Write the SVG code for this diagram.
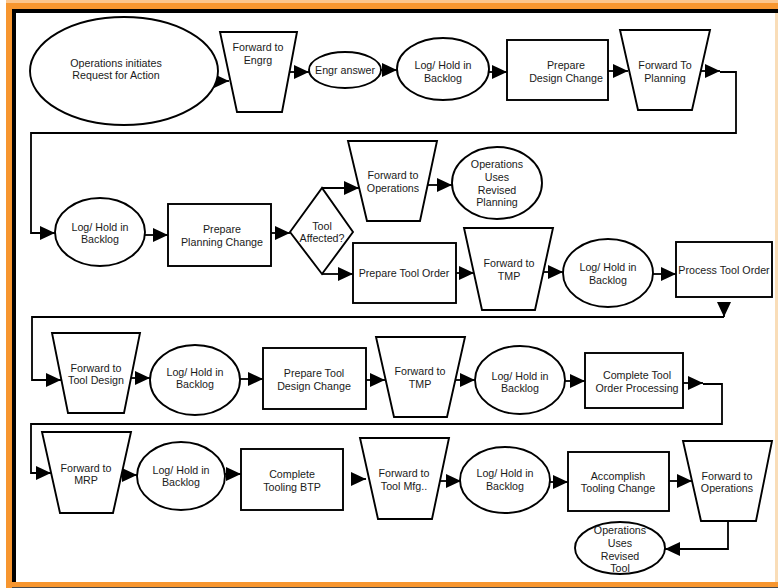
<svg xmlns="http://www.w3.org/2000/svg" width="778" height="588" viewBox="0 0 778 588">
  <style>
    .shape { fill: #ffffff; stroke: #000000; stroke-width: 1.9; }
    .conn { fill: none; stroke: #000000; stroke-width: 1.8; }
    .lbl { font-family: "Liberation Sans", Arial, sans-serif; font-size: 10.7px; fill: #1a1a1a; text-anchor: middle; }
  </style>
  <defs>
    <marker id="arrow" markerUnits="userSpaceOnUse" markerWidth="15" markerHeight="14" refX="15" refY="7" orient="auto">
      <path d="M0,0 L15,7 L0,14 Z" fill="#000000"/>
    </marker>
  </defs>

  <!-- page frame -->
  <g id="frame">
    <rect x="6" y="0" width="772" height="588" fill="#F7962F"/>
    <rect x="6" y="0" width="772" height="3" fill="#FBC58C"/>
    <rect x="12" y="9" width="766" height="4" fill="#000000"/>
    <rect x="12" y="9" width="4" height="573" fill="#000000"/>
    <rect x="16" y="13" width="759" height="569" fill="#ffffff"/>
    <rect x="775" y="13" width="3" height="569" fill="#F9DDB8"/>
    <rect x="12" y="587" width="766" height="1" fill="#4a4a4a"/>
  </g>

  <!-- connectors -->
  <g id="connectors" class="conn">
    <path class="conn" d="M216,81 H229" marker-end="url(#arrow)"/>
    <path class="conn" d="M289,72 H309" marker-end="url(#arrow)"/>
    <path class="conn" d="M381,70 H397" marker-end="url(#arrow)"/>
    <path class="conn" d="M488,72 H507" marker-end="url(#arrow)"/>
    <path class="conn" d="M608,71 H628" marker-end="url(#arrow)"/>
    <path class="conn" d="M701,71 H720" marker-end="url(#arrow)"/>
    <path class="conn" d="M720,72 H736 V133 H31 V233 H55" marker-end="url(#arrow)"/>
    <path class="conn" d="M145,235 H168" marker-end="url(#arrow)"/>
    <path class="conn" d="M271,233 H290" marker-end="url(#arrow)"/>
    <path class="conn" d="M322,188 H359" marker-end="url(#arrow)"/>
    <path class="conn" d="M427,185 H452" marker-end="url(#arrow)"/>
    <path class="conn" d="M322,274 H353" marker-end="url(#arrow)"/>
    <path class="conn" d="M456,273 H474" marker-end="url(#arrow)"/>
    <path class="conn" d="M543,272 H563" marker-end="url(#arrow)"/>
    <path class="conn" d="M653,274 H676" marker-end="url(#arrow)"/>
    <path class="conn" d="M724,303 V317" marker-end="url(#arrow)"/>
    <path class="conn" d="M724,317 H32 V380 H61" marker-end="url(#arrow)"/>
    <path class="conn" d="M131,378 H150" marker-end="url(#arrow)"/>
    <path class="conn" d="M240,379 H263" marker-end="url(#arrow)"/>
    <path class="conn" d="M366,380 H385" marker-end="url(#arrow)"/>
    <path class="conn" d="M455,380 H475" marker-end="url(#arrow)"/>
    <path class="conn" d="M565,381 H585" marker-end="url(#arrow)"/>
    <path class="conn" d="M683,383 H703" marker-end="url(#arrow)"/>
    <path class="conn" d="M703,384 H722 V424 H31 V473 H51" marker-end="url(#arrow)"/>
    <path class="conn" d="M121,475 H137" marker-end="url(#arrow)"/>
    <path class="conn" d="M225,474 H241" marker-end="url(#arrow)"/>
    <path class="conn" d="M351,479 H366" marker-end="url(#arrow)"/>
    <path class="conn" d="M440,481 H461" marker-end="url(#arrow)"/>
    <path class="conn" d="M550,482 H568" marker-end="url(#arrow)"/>
    <path class="conn" d="M669,481 H692" marker-end="url(#arrow)"/>
    <path class="conn" d="M728,521 V549 H665" marker-end="url(#arrow)"/>
  </g>

  <!-- row 1 -->
  <g id="ops-request">
    <ellipse class="shape" cx="124" cy="71" rx="94" ry="54"/>
    <text class="lbl" x="116" y="66.5">Operations initiates</text>
    <text class="lbl" x="116" y="78.5">Request for Action</text>
  </g>
  <g id="fwd-engrg">
    <polygon class="shape" points="220,32 297,32 282,112 237,112"/>
    <text class="lbl" x="258" y="51">Forward to</text>
    <text class="lbl" x="258" y="64">Engrg</text>
  </g>
  <g id="engr-answer">
    <ellipse class="shape" cx="345" cy="70" rx="36" ry="18"/>
    <text class="lbl" x="345" y="74">Engr answer</text>
  </g>
  <g id="backlog-1">
    <ellipse class="shape" cx="443" cy="69" rx="46" ry="31"/>
    <text class="lbl" x="443" y="69">Log/ Hold in</text>
    <text class="lbl" x="443" y="82">Backlog</text>
  </g>
  <g id="design-change">
    <rect class="shape" x="507" y="40" width="101" height="60"/>
    <text class="lbl" x="566" y="69">Prepare</text>
    <text class="lbl" x="566" y="82">Design Change</text>
  </g>
  <g id="fwd-planning">
    <polygon class="shape" points="620,30 710,30 692,110 638,110"/>
    <text class="lbl" x="665" y="69">Forward To</text>
    <text class="lbl" x="665" y="82">Planning</text>
  </g>

  <!-- row 2 -->
  <g id="backlog-2">
    <ellipse class="shape" cx="100" cy="232" rx="45" ry="34"/>
    <text class="lbl" x="100" y="231">Log/ Hold in</text>
    <text class="lbl" x="100" y="243">Backlog</text>
  </g>
  <g id="planning-change">
    <rect class="shape" x="168" y="204" width="103" height="62"/>
    <text class="lbl" x="222" y="233">Prepare</text>
    <text class="lbl" x="222" y="246">Planning Change</text>
  </g>
  <g id="tool-affected">
    <polygon class="shape" points="290,232 322,188 353,232 322,274"/>
    <text class="lbl" x="322" y="230">Tool</text>
    <text class="lbl" x="322" y="242">Affected?</text>
  </g>
  <g id="fwd-ops-1">
    <polygon class="shape" points="348,141 437,141 420,221 367,221"/>
    <text class="lbl" x="393" y="179">Forward to</text>
    <text class="lbl" x="393" y="192">Operations</text>
  </g>
  <g id="ops-uses-planning">
    <ellipse class="shape" cx="497" cy="183" rx="45" ry="36"/>
    <text class="lbl" x="497" y="168">Operations</text>
    <text class="lbl" x="497" y="181">Uses</text>
    <text class="lbl" x="497" y="194">Revised</text>
    <text class="lbl" x="497" y="206">Planning</text>
  </g>
  <g id="tool-order">
    <rect class="shape" x="353" y="243" width="103" height="60"/>
    <text class="lbl" x="404" y="277">Prepare Tool Order</text>
  </g>
  <g id="fwd-tmp-1">
    <polygon class="shape" points="464,228 553,228 535,310 482,310"/>
    <text class="lbl" x="509" y="267">Forward to</text>
    <text class="lbl" x="509" y="280">TMP</text>
  </g>
  <g id="backlog-3">
    <ellipse class="shape" cx="608" cy="273" rx="45" ry="34"/>
    <text class="lbl" x="608" y="271">Log/ Hold in</text>
    <text class="lbl" x="608" y="284">Backlog</text>
  </g>
  <g id="process-tool-order">
    <rect class="shape" x="676" y="242" width="96" height="55"/>
    <text class="lbl" x="724" y="274">Process Tool Order</text>
  </g>

  <!-- row 3 -->
  <g id="fwd-tool-design">
    <polygon class="shape" points="52,333 140,333 124,413 68,413"/>
    <text class="lbl" x="96" y="372">Forward to</text>
    <text class="lbl" x="96" y="384">Tool Design</text>
  </g>
  <g id="backlog-4">
    <ellipse class="shape" cx="195" cy="380" rx="45" ry="35"/>
    <text class="lbl" x="195" y="376">Log/ Hold in</text>
    <text class="lbl" x="195" y="388">Backlog</text>
  </g>
  <g id="tool-design-change">
    <rect class="shape" x="263" y="348" width="103" height="61"/>
    <text class="lbl" x="314" y="377">Prepare Tool</text>
    <text class="lbl" x="314" y="390">Design Change</text>
  </g>
  <g id="fwd-tmp-2">
    <polygon class="shape" points="376,337 465,337 447,417 394,417"/>
    <text class="lbl" x="420" y="375">Forward to</text>
    <text class="lbl" x="420" y="388">TMP</text>
  </g>
  <g id="backlog-5">
    <ellipse class="shape" cx="520" cy="380" rx="45" ry="34"/>
    <text class="lbl" x="520" y="380">Log/ Hold in</text>
    <text class="lbl" x="520" y="392">Backlog</text>
  </g>
  <g id="complete-tool-order">
    <rect class="shape" x="585" y="353" width="98" height="55"/>
    <text class="lbl" x="637" y="379">Complete Tool</text>
    <text class="lbl" x="637" y="392">Order Processing</text>
  </g>

  <!-- row 4 -->
  <g id="fwd-mrp">
    <polygon class="shape" points="42,432 131,432 113,513 60,513"/>
    <text class="lbl" x="86" y="472">Forward to</text>
    <text class="lbl" x="86" y="484">MRP</text>
  </g>
  <g id="backlog-6">
    <ellipse class="shape" cx="181" cy="476" rx="44" ry="34"/>
    <text class="lbl" x="181" y="474">Log/ Hold in</text>
    <text class="lbl" x="181" y="486">Backlog</text>
  </g>
  <g id="tooling-btp">
    <rect class="shape" x="241" y="449" width="102" height="61"/>
    <text class="lbl" x="292" y="478">Complete</text>
    <text class="lbl" x="292" y="491">Tooling BTP</text>
  </g>
  <g id="fwd-tool-mfg">
    <polygon class="shape" points="360,438 449,438 432,519 378,519"/>
    <text class="lbl" x="404" y="477">Forward to</text>
    <text class="lbl" x="404" y="490">Tool Mfg..</text>
  </g>
  <g id="backlog-7">
    <ellipse class="shape" cx="505" cy="480" rx="45" ry="33"/>
    <text class="lbl" x="505" y="477">Log/ Hold in</text>
    <text class="lbl" x="505" y="490">Backlog</text>
  </g>
  <g id="tooling-change">
    <rect class="shape" x="568" y="452" width="101" height="59"/>
    <text class="lbl" x="618" y="480">Accomplish</text>
    <text class="lbl" x="618" y="492">Tooling Change</text>
  </g>
  <g id="fwd-ops-2">
    <polygon class="shape" points="683,441 772,441 756,521 701,521"/>
    <text class="lbl" x="727" y="480">Forward to</text>
    <text class="lbl" x="727" y="492">Operations</text>
  </g>
  <g id="ops-uses-tool">
    <ellipse class="shape" cx="620" cy="548" rx="45" ry="26"/>
    <text class="lbl" x="620" y="534">Operations</text>
    <text class="lbl" x="620" y="547">Uses</text>
    <text class="lbl" x="620" y="560">Revised</text>
    <text class="lbl" x="620" y="572">Tool</text>
  </g>
</svg>
